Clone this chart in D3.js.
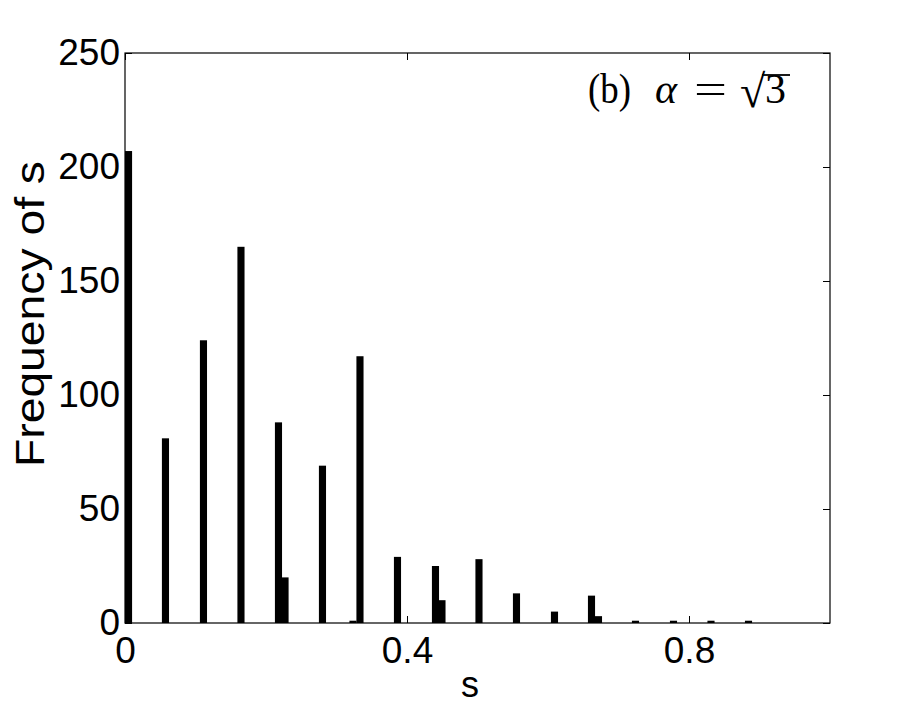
<!DOCTYPE html>
<html>
<head>
<meta charset="utf-8">
<script src="https://cdn.jsdelivr.net/npm/d3@7"></script>
<style>
  html, body { margin: 0; padding: 0; background: #fff; }
  svg { display: block; }
</style>
</head>
<body>
<svg id="chart" width="917" height="711"></svg>
<script>
// ---- data ----
const binCenters = [0.005, 0.0574, 0.1113, 0.1645, 0.2177, 0.2270, 0.2801, 0.3234, 0.3333, 0.3865,
                    0.4404, 0.4496, 0.5021, 0.5553, 0.6092, 0.6617, 0.6716, 0.7241, 0.7780, 0.8312, 0.8844];
const counts     = [207, 81, 124, 165, 88, 20, 69, 1, 117, 29,
                    25, 10, 28, 13, 5, 12, 3, 1, 1, 1, 1];
const xTicks = [0, 0.4, 0.8];
const xTickLabels = ["0", "0.4", "0.8"];
const yTicks = [0, 50, 100, 150, 200, 250];
const yTickLabels = ["0", "50", "100", "150", "200", "250"];
const binWidth = 0.0101;

const svg = d3.select("#chart");
const L = 125, R = 830, T = 53, B = 623;
const x = d3.scaleLinear().domain([0, 1]).range([L, R]);
const y = d3.scaleLinear().domain([0, 250]).range([B, T]);

svg.append("rect").attr("width", 917).attr("height", 711).attr("fill", "#fff");

svg.append("clipPath").attr("id", "clip").append("rect")
  .attr("x", L).attr("y", T).attr("width", R - L).attr("height", B - T);

// bars
svg.append("g").attr("clip-path", "url(#clip)")
  .selectAll("rect").data(binCenters.map((c, i) => ({c, v: counts[i]})))
  .enter().append("rect")
  .attr("x", d => x(d.c - binWidth / 2))
  .attr("width", d => x(d.c + binWidth / 2) - x(d.c - binWidth / 2))
  .attr("y", d => y(d.v))
  .attr("height", d => y(0) - y(d.v))
  .attr("fill", "#000");

const tickFont = "'Liberation Sans', Arial, Helvetica, sans-serif";
const tl = 7;

const xAxisB = d3.axisBottom(x).tickValues(xTicks).tickFormat((d, i) => xTickLabels[i])
  .tickSizeInner(-tl).tickSizeOuter(0).tickPadding(14);
const gxb = svg.append("g").attr("transform", `translate(0,${B})`).call(xAxisB);
const xAxisT = d3.axisTop(x).tickValues(xTicks).tickFormat("").tickSizeInner(-tl).tickSizeOuter(0);
const gxt = svg.append("g").attr("transform", `translate(0,${T})`).call(xAxisT);
const yAxisL = d3.axisLeft(y).tickValues(yTicks).tickFormat((d, i) => yTickLabels[i])
  .tickSizeInner(-tl).tickSizeOuter(0).tickPadding(5);
const gyl = svg.append("g").attr("transform", `translate(${L},0)`).call(yAxisL);
const yAxisR = d3.axisRight(y).tickValues(yTicks).tickFormat("").tickSizeInner(-tl).tickSizeOuter(0);
const gyr = svg.append("g").attr("transform", `translate(${R},0)`).call(yAxisR);

[gxb, gxt, gyl, gyr].forEach(g => {
  g.select(".domain").remove();
  g.selectAll("line").attr("stroke", "#000").attr("stroke-width", 1);
  g.selectAll("text").attr("fill", "#000").style("font-family", tickFont).style("font-size", "37px");
});
gxb.selectAll("text").attr("dy", "0.71em");

// box
svg.append("rect").attr("x", L).attr("y", T).attr("width", R - L).attr("height", B - T)
  .attr("fill", "none").attr("stroke", "#000").attr("stroke-width", 1.2);

// axis labels
svg.append("text").attr("x", 470).attr("y", 697).attr("text-anchor", "middle")
  .style("font-family", tickFont).style("font-size", "36px").text("s");
svg.append("text").attr("transform", "translate(44,314) rotate(-90)").attr("text-anchor", "middle")
  .attr("textLength", 306).attr("lengthAdjust", "spacingAndGlyphs")
  .style("font-family", tickFont).style("font-size", "41px").text("Frequency of s");

// annotation (b) α = √3
const serif = "'Liberation Serif', 'DejaVu Serif', serif";
const annY = 103;
const ann = svg.append("g").attr("fill", "#000").style("font-family", serif).style("font-size", "42px");
ann.append("text").attr("x", 588).attr("y", annY).attr("textLength", 43).attr("lengthAdjust", "spacingAndGlyphs").text("(b)");
ann.append("text").attr("x", 655).attr("y", annY).style("font-style", "italic").text("α");
ann.append("text").attr("x", 694).attr("y", annY).attr("textLength", 33).attr("lengthAdjust", "spacingAndGlyphs").text("=");
ann.append("text").attr("x", 740).attr("y", annY + 4).style("font-size", "46px").text("√");
ann.append("text").attr("x", 765).attr("y", annY).text("3");
svg.append("line").attr("x1", 762).attr("x2", 790)
  .attr("y1", 75).attr("y2", 75).attr("stroke", "#000").attr("stroke-width", 1.8);
</script>
</body>
</html>
